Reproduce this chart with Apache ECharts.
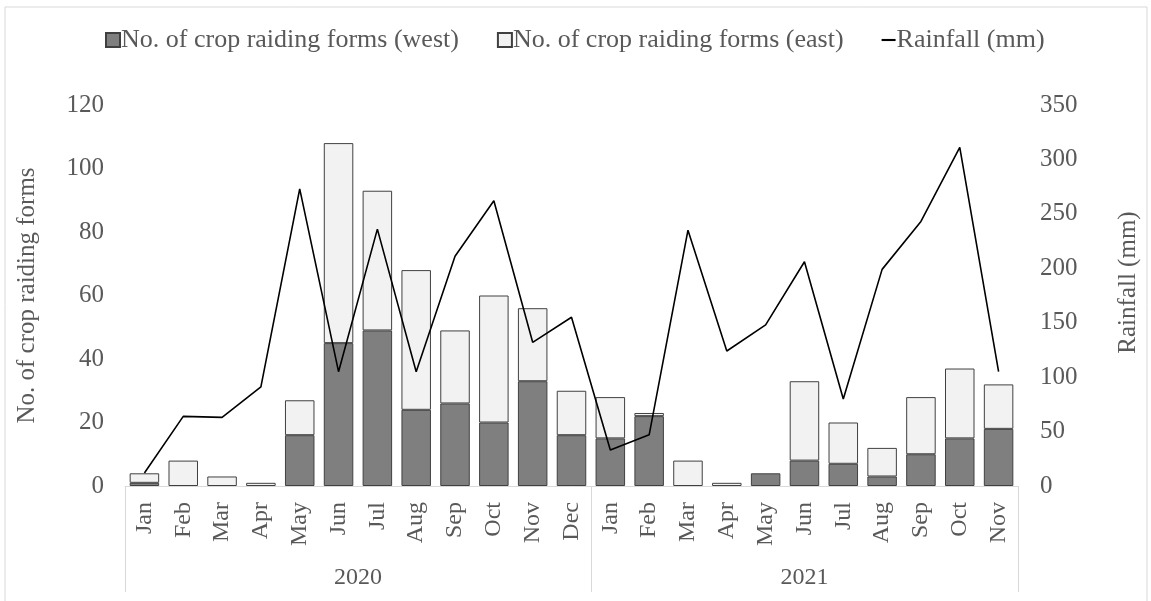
<!DOCTYPE html>
<html>
<head>
<meta charset="utf-8">
<script src="https://cdn.jsdelivr.net/npm/echarts@6/dist/echarts.min.js"></script>
<style>
  html, body { margin: 0; padding: 0; background: #fff; }
  #chart { width: 1151px; height: 601px; }
</style>
</head>
<body>
<div id="chart"></div>
<script>
// month categories, 2020 then 2021
var months = ['Jan', 'Feb', 'Mar', 'Apr', 'May', 'Jun', 'Jul', 'Aug', 'Sep', 'Oct', 'Nov', 'Dec',
  'Jan', 'Feb', 'Mar', 'Apr', 'May', 'Jun', 'Jul', 'Aug', 'Sep', 'Oct', 'Nov'];
var years = ['2020', '2021'];
var monthsPerYear = [12, 11];

var westForms = [1, 0, 0, 0, 16, 45, 49, 24, 26, 20, 33, 16,
  15, 22, 0, 0, 4, 8, 7, 3, 10, 15, 18];
var eastForms = [3, 8, 3, 1, 11, 63, 44, 44, 23, 40, 23, 14,
  13, 1, 8, 1, 0, 25, 13, 9, 18, 22, 14];
var rainfall = [12, 64, 63, 91, 273, 105, 236, 105, 211, 262, 132, 155,
  33, 47, 235, 124, 148, 206, 80, 199, 243, 311, 105];

var formsTicks = [0, 120, 20];
var rainTicks = [0, 350, 50];

// year boundaries and label centres on the month scale
var yearEdges = [0];
var yearCentres = [];
monthsPerYear.forEach(function (n, i) {
  var start = yearEdges[i];
  yearEdges.push(start + n);
  yearCentres.push(start + n / 2);
});

// empty months get no bar at all (no outline on the baseline)
function noZero(arr) {
  return arr.map(function (v) { return v === 0 ? '-' : v; });
}

var font = '"Liberation Serif", "Times New Roman", serif';
var txt = '#595959';

var chart = echarts.init(document.getElementById('chart'));
var option = {
  animation: false,
  backgroundColor: '#fff',
  textStyle: { fontFamily: font, color: txt },
  graphic: [{
    type: 'rect',
    shape: { x: 5, y: 7, width: 1142, height: 620 },
    style: { fill: 'none', stroke: '#d9d9d9', lineWidth: 1 },
    silent: true
  }],
  legend: {
    left: 100,
    top: 22,
    itemWidth: 14,
    itemHeight: 14,
    itemGap: 38,
    textStyle: { fontFamily: font, fontSize: 26, color: txt, padding: [0, 0, 0, -4] },
    data: [
      { name: 'No. of crop raiding forms (west)', icon: 'rect' },
      { name: 'No. of crop raiding forms (east)', icon: 'rect' },
      { name: 'Rainfall (mm)', icon: 'path://M0,0 L12,0 L12,1.8 L0,1.8 Z' }
    ]
  },
  grid: { left: 125, right: 133, top: 105, bottom: 115 },
  xAxis: [{
    type: 'category',
    data: months,
    axisLine: { lineStyle: { color: '#d9d9d9', width: 1 } },
    axisTick: { show: false },
    axisLabel: { interval: 0, rotate: 90, fontSize: 24, margin: 16, color: txt, fontFamily: font }
  }, {
    type: 'value',
    position: 'bottom',
    min: 0,
    max: months.length,
    axisLine: { show: false },
    splitLine: { show: false },
    axisTick: {
      show: true,
      customValues: yearEdges,
      length: 106,
      lineStyle: { color: '#d9d9d9', width: 1 }
    },
    axisLabel: {
      customValues: yearCentres,
      margin: 80,
      fontSize: 24,
      color: txt,
      fontFamily: font,
      formatter: function (v) {
        return years[yearCentres.indexOf(v)];
      }
    }
  }],
  yAxis: [{
    type: 'value',
    min: formsTicks[0],
    max: formsTicks[1],
    interval: formsTicks[2],
    name: 'No. of crop raiding forms',
    nameLocation: 'middle',
    nameGap: 85,
    nameTextStyle: { fontSize: 25, color: txt, fontFamily: font },
    axisLine: { show: false },
    axisTick: { show: false },
    splitLine: { show: false },
    axisLabel: { fontSize: 25, margin: 21, color: txt, fontFamily: font }
  }, {
    type: 'value',
    min: rainTicks[0],
    max: rainTicks[1],
    interval: rainTicks[2],
    name: 'Rainfall (mm)',
    nameLocation: 'middle',
    nameGap: 98,
    nameTextStyle: { fontSize: 25, color: txt, fontFamily: font, padding: [0, 0, 0, 26] },
    axisLine: { show: false },
    axisTick: { show: false },
    splitLine: { show: false },
    axisLabel: { fontSize: 25, margin: 22, color: txt, fontFamily: font, align: 'left' }
  }],
  series: [{
    name: 'No. of crop raiding forms (west)',
    type: 'bar',
    stack: 'forms',
    barWidth: '76%',
    itemStyle: { color: '#7f7f7f', borderColor: '#404040', borderWidth: 1 },
    data: noZero(westForms)
  }, {
    name: 'No. of crop raiding forms (east)',
    type: 'bar',
    stack: 'forms',
    barWidth: '76%',
    itemStyle: { color: '#f2f2f2', borderColor: '#404040', borderWidth: 1 },
    data: noZero(eastForms)
  }, {
    name: 'Rainfall (mm)',
    type: 'line',
    yAxisIndex: 1,
    symbol: 'none',
    lineStyle: { color: '#000', width: 1.6 },
    itemStyle: { color: '#000' },
    data: rainfall
  }]
};
chart.setOption(option);
</script>
</body>
</html>
